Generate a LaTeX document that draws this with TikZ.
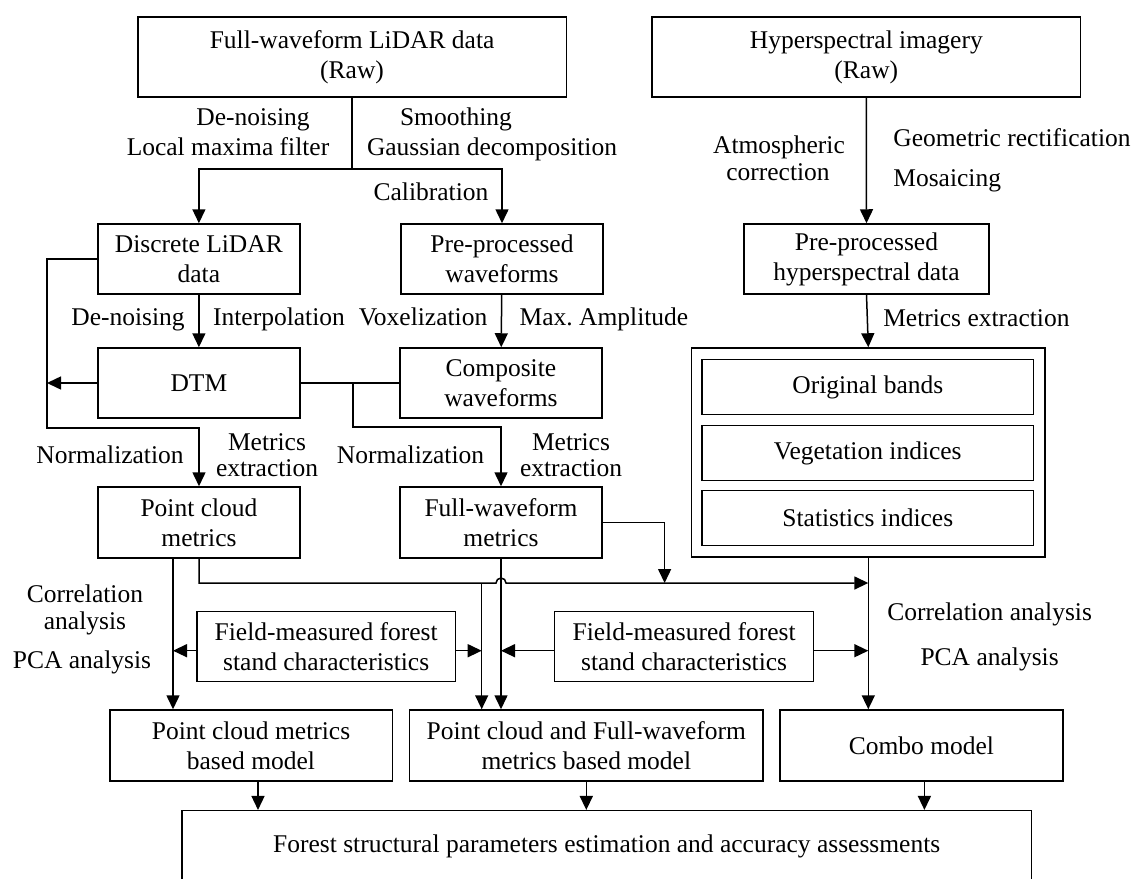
\documentclass[tikz,border=0pt]{standalone}
\usepackage{fontspec}
\setmainfont{Liberation Serif}
\usetikzlibrary{arrows.meta,calc}
\begin{document}
\begin{tikzpicture}[x=1pt,y=-1pt,line width=1.5pt,
  every node/.style={font=\fontsize{25.5}{30}\selectfont, inner sep=0pt},
  box/.style={draw, line width=1.5pt, align=center},
  lbl/.style={text height=17pt, text depth=6pt},
  arr/.style={-{Triangle[length=14pt,width=13pt]}}]
\useasboundingbox (0,0) rectangle (1139,878);
\clip (0,0) rectangle (1139,878);
% boxes
\node[box, minimum width=428.6pt, minimum height=80pt] (lidar) at (352.1,57) {Full-waveform LiDAR data\\(Raw)};
\node[box, minimum width=428.2pt, minimum height=80pt] (hs) at (866.3,57) {Hyperspectral imagery\\(Raw)};
\node[box, minimum width=201.7pt, minimum height=70pt] (disc) at (198.9,259) {Discrete LiDAR\\data};
\node[box, minimum width=202pt, minimum height=70pt] (prewf) at (502,259) {Pre-processed\\waveforms};
\node[box, minimum width=244.6pt, minimum height=70pt] (prehs) at (866.5,259) {Pre-processed\\hyperspectral data};
\node[box, minimum width=201.7pt, minimum height=70pt] (dtm) at (198.9,383) {DTM};
\node[box, minimum width=201.8pt, minimum height=70pt] (comp) at (500.9,383) {Composite\\waveforms};
\node[box, minimum width=353.4pt, minimum height=209pt] (outer) at (868.3,452.5) {};
\node[box, minimum width=331.5pt, minimum height=55pt] (ob) at (867.8,387) {Original bands};
\node[box, minimum width=331.5pt, minimum height=55pt] (vi) at (867.8,453) {Vegetation indices};
\node[box, minimum width=331.5pt, minimum height=55pt] (si) at (867.8,518) {Statistics indices};
\node[box, minimum width=202pt, minimum height=71pt] (pcm) at (199,522.5) {Point cloud\\metrics};
\node[box, minimum width=202pt, minimum height=71pt] (fwm) at (501,522.5) {Full-waveform\\metrics};
\node[box, minimum width=258.4pt, minimum height=70pt] (field1) at (326.2,646.7) {Field-measured forest\\stand characteristics};
\node[box, minimum width=259.2pt, minimum height=70pt] (field2) at (684.1,646.7) {Field-measured forest\\stand characteristics};
\node[box, minimum width=282.5pt, minimum height=71pt] (pcmm) at (251,745.5) {Point cloud metrics\\based model};
\node[box, minimum width=353.5pt, minimum height=71pt] (pcfw) at (586.3,745.5) {Point cloud and Full-waveform\\metrics based model};
\node[box, minimum width=282.8pt, minimum height=71pt] (combo) at (921.4,745.5) {Combo model};
\node[box, minimum width=849.8pt, minimum height=72pt] (final) at (606.7,846.7) {Forest structural parameters estimation and accuracy assessments};
% labels
\node[lbl] (l1) at (253,120) {De-noising};
\node[lbl] (l2) at (228,150) {Local maxima filter};
\node[lbl] (l3) at (456,120) {Smoothing};
\node[lbl] (l4) at (492,150) {Gaussian decomposition};
\node[lbl] (l5) at (431,195) {Calibration};
\node[lbl] (l6) at (779,148) {Atmospheric};
\node[lbl] (l7) at (778,175) {correction};
\node[lbl, anchor=west] (l8) at (892.6,141) {Geometric rectification};
\node[lbl, anchor=west] (l9) at (892.6,181) {Mosaicing};
\node[lbl] (l10) at (128,320) {De-noising};
\node[lbl] (l11) at (279,320) {Interpolation};
\node[lbl] (l12) at (423,320) {Voxelization};
\node[lbl] (l13) at (604,320) {Max.\ Amplitude};
\node[lbl, anchor=west] (l14) at (882.5,321) {Metrics extraction};
\node[lbl] (l15) at (110,458) {Normalization};
\node[lbl] (l16) at (267,445) {Metrics};
\node[lbl] (l17) at (267,471) {extraction};
\node[lbl] (l18) at (410.5,458) {Normalization};
\node[lbl] (l19) at (571,445) {Metrics};
\node[lbl] (l20) at (571,471) {extraction};
\node[lbl] (l21) at (85,597) {Correlation};
\node[lbl] (l22) at (85,624) {analysis};
\node[lbl] (l23) at (82,663) {PCA analysis};
\node[lbl] (l24) at (989.6,615) {Correlation analysis};
\node[lbl] (l25) at (989.6,660) {PCA analysis};
% helper coordinates
\coordinate (s1) at (352.1,169);
\coordinate (c1) at (47,428);
\coordinate (c2) at (352.9,383);
\coordinate (c3) at (352.9,427);
\coordinate (c5) at (664.6,583);
\coordinate (j) at (501,583);
\coordinate (c7) at (481.7,583);
\coordinate (vL) at ([xshift=-26pt]pcm.south);
\coordinate (f1w) at ([yshift=-4pt]field1.west);
\coordinate (f1e) at ([yshift=-4pt]field1.east);
\coordinate (f2w) at ([yshift=-4pt]field2.west);
\coordinate (f2e) at ([yshift=-4pt]field2.east);
\coordinate (b1) at ([xshift=7pt]pcmm.south);
\coordinate (b3) at ([xshift=3pt]combo.south);
% connectors
\draw (lidar.south) -- (s1);
\draw[arr] (s1) -| (disc.north);
\draw[arr] (s1) -| (prewf.north);
\draw[arr] (hs.south) -- (prehs.north);
\draw[arr] (disc) -- (dtm);
\draw[arr] (prewf) -- (comp);
\draw[arr] (prehs.south) -- (outer.north);
\draw[arr] (disc.west) -| (c1) -| (pcm.north);
\draw[arr] (dtm.west) -- (dtm.west -| c1);
\draw (dtm.east) -- (comp.west);
\draw[arr] (c2) -- (c3) -| (fwm.north);
\draw[arr] (fwm.east) -| (c5);
\draw[arr] (pcm.south) |- ([xshift=-5pt]j) arc[start angle=180,end angle=0,radius=5pt] -- (outer.south |- j);
\draw[arr] (fwm.south) -- (fwm.south |- pcfw.north);
\draw[arr] (c7) -- (c7 |- pcfw.north);
\draw[arr] (vL) -- (vL |- pcmm.north);
\draw[arr] (outer.south) -- (outer.south |- combo.north);
\draw[arr] (f1w) -- (f1w -| vL);
\draw[arr] (f1e) -- (f1e -| c7);
\draw[arr] (f2w) -- (f2w -| j);
\draw[arr] (f2e) -- (f2e -| outer.south);
\draw[arr] (b1) -- (b1 |- final.north);
\draw[arr] (pcfw.south) -- (pcfw.south |- final.north);
\draw[arr] (b3) -- (b3 |- final.north);
\end{tikzpicture}
\end{document}
